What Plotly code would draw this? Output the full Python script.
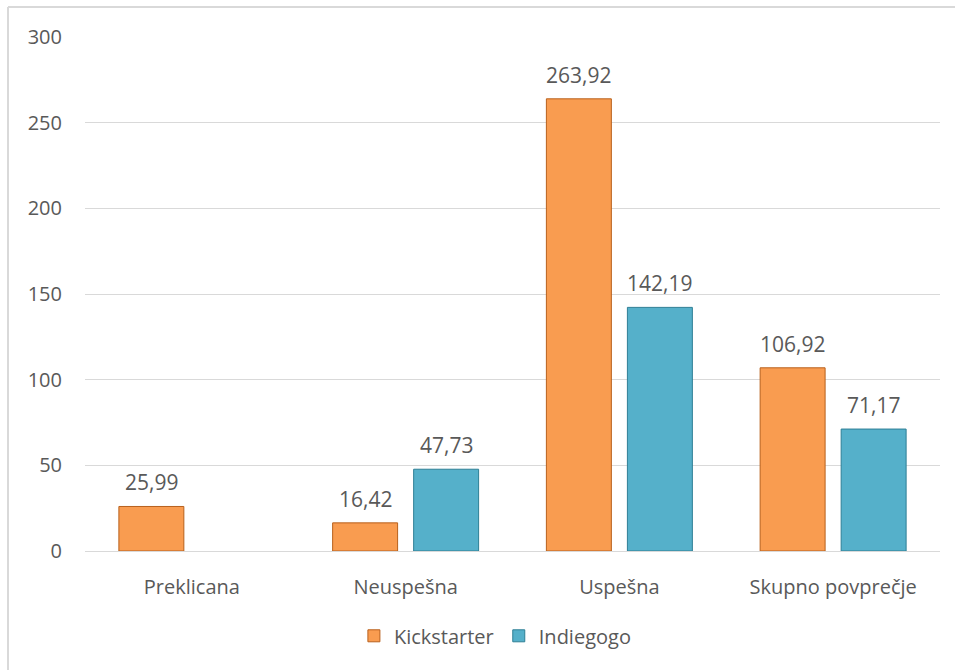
import plotly.graph_objects as go

categories = ["Preklicana", "Neuspešna", "Uspešna", "Skupno povprečje"]
kickstarter = [25.99, 16.42, 263.92, 106.92]
indiegogo = [None, 47.73, 142.19, 71.17]
y_ticks = [0, 50, 100, 150, 200, 250, 300]

FONT = "'Open Sans', Lato, sans-serif"
TXT = "#595959"

fig = go.Figure()
fig.add_trace(go.Bar(
    name="Kickstarter", x=categories, y=kickstarter,
    marker=dict(color="#F99C50", line=dict(color="#B8601C", width=1)),
))
fig.add_trace(go.Bar(
    name="Indiegogo", x=categories, y=indiegogo,
    marker=dict(color="#55B0CA", line=dict(color="#2E7F95", width=1)),
))

# value labels above bars (grouped offsets in pixels)
annotations = []
for series, dx in ((kickstarter, -40.5), (indiegogo, 40.5)):
    for cat, v in zip(categories, series):
        if v is None:
            continue
        annotations.append(dict(
            x=cat, y=v, xref="x", yref="y", text=f"{v:.2f}".replace(".", ","),
            showarrow=False, xshift=dx, yshift=8, yanchor="bottom",
            font=dict(size=21, color=TXT, family=FONT),
        ))

L, R, T, B = 85, 15, 37, 119
W, H = 955, 670
pw, ph = W - L - R, H - T - B
bx = (8 - L) / pw
by = 1 + (T - 7) / ph

fig.update_layout(
    width=W, height=H,
    margin=dict(l=L, r=R, t=T, b=B),
    paper_bgcolor="white", plot_bgcolor="white",
    separators=",.",
    barmode="group", bargap=0.242, bargroupgap=0.198,
    font=dict(family=FONT, size=20, color=TXT),
    showlegend=True,
    legend=dict(orientation="h", x=0.48, xanchor="center", y=-0.165, yanchor="middle",
                font=dict(size=20, color=TXT, family=FONT), traceorder="normal",
                itemwidth=30),
    xaxis=dict(showgrid=False, showline=True, linecolor="#D9D9D9", linewidth=1,
               ticks="", ticklabelstandoff=18, tickfont=dict(size=20, color=TXT)),
    yaxis=dict(range=[0, 300], tickvals=y_ticks, showgrid=True, gridcolor="#D9D9D9",
               gridwidth=1, zeroline=False, showline=False, ticks="",
               ticklabelstandoff=22, tickfont=dict(size=20, color=TXT)),
    annotations=annotations,
    shapes=[
        dict(type="line", xref="paper", yref="paper", x0=bx, x1=1.2, y0=by, y1=by,
             line=dict(color="#D9D9D9", width=2)),
        dict(type="line", xref="paper", yref="paper", x0=bx, x1=bx, y0=by, y1=-0.4,
             line=dict(color="#D9D9D9", width=2)),
    ],
)

fig.write_html("out.html")
